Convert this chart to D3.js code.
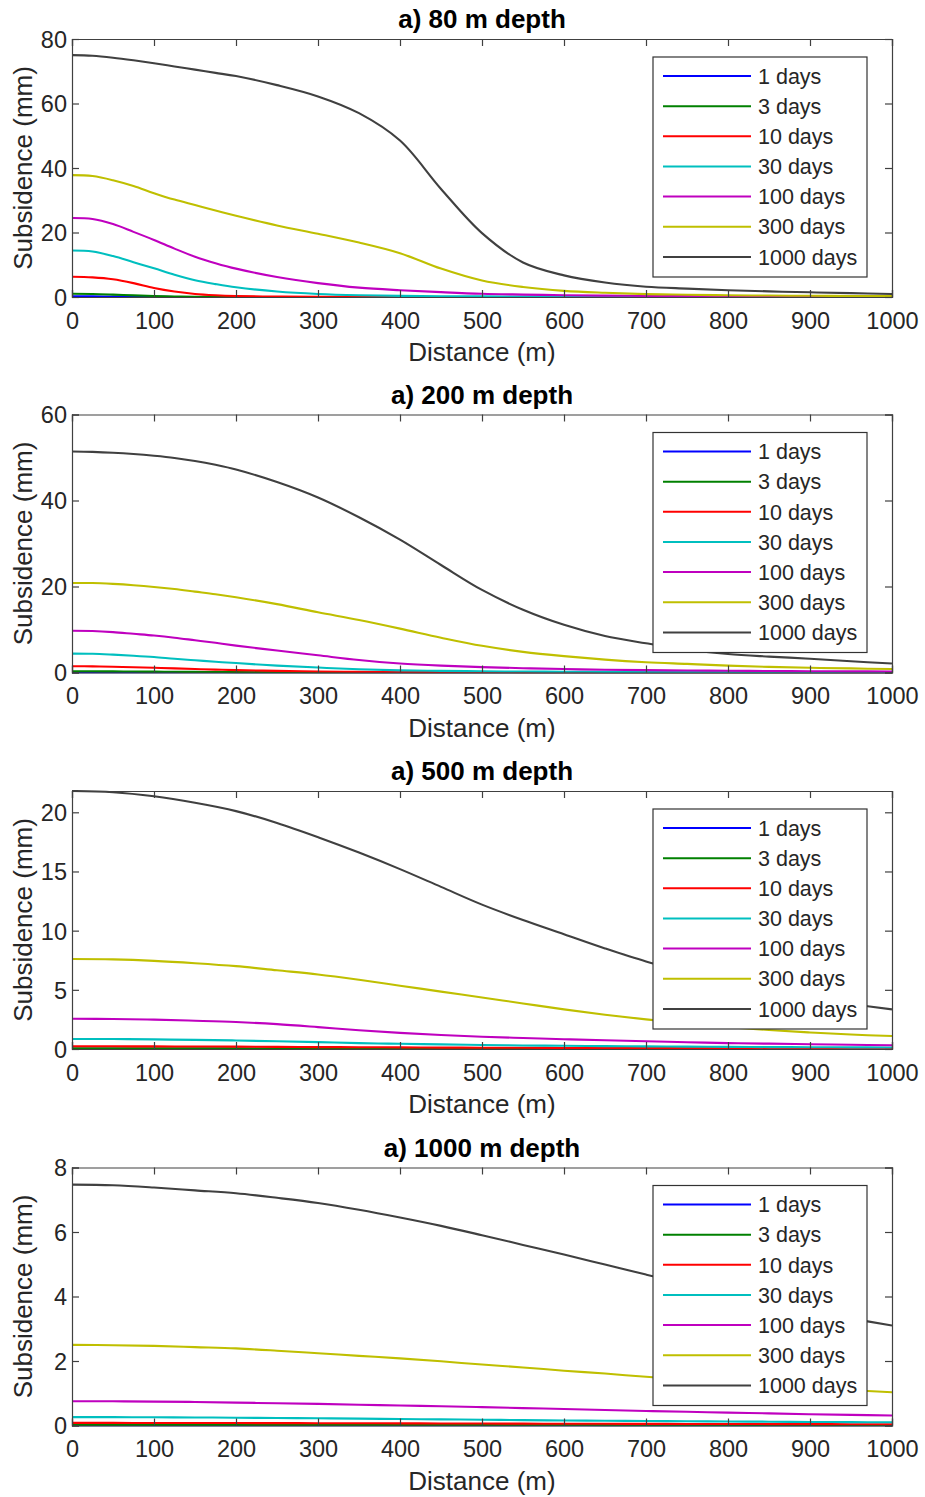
<!DOCTYPE html>
<html><head><meta charset="utf-8">
<script src="https://cdn.jsdelivr.net/npm/d3@7"></script>
<style>body{margin:0;background:#fff}svg{display:block}text{font-family:"Liberation Sans",Arial,sans-serif;fill:#262626}</style>
</head><body><div id="chart"></div>
<script>
// ---------- data ----------
const seriesNames = ["1 days","3 days","10 days","30 days","100 days","300 days","1000 days"];
const seriesColors = ["#0000ff","#008000","#ff0000","#00bfbf","#bf00bf","#bfbf00","#404040"];
const xTicks = [0,100,200,300,400,500,600,700,800,900,1000];

const distA = [0,25,50,75,100,125,150,175,200,250,300,350,400,450,500,550,600,650,700,750,800,850,900,950,1000];
const distB = [0,50,100,150,200,250,300,350,400,450,500,550,600,650,700,750,800,850,900,950,1000];

// Panel 1: 80 m depth (distA)
const p1Title = "a) 80 m depth";
const p1YTicks = [0,20,40,60,80];
const p1YMax = 80;
const p1_1d    = [0.2,0.19,0.13,0.08,0.04,0.02,0.01,0.005,0,0,0,0,0,0,0,0,0,0,0,0,0,0,0,0,0];
const p1_3d    = [1.0,0.95,0.75,0.5,0.3,0.17,0.09,0.05,0.03,0.01,0,0,0,0,0,0,0,0,0,0,0,0,0,0,0];
const p1_10d   = [6.3,6.1,5.5,4.3,2.8,1.7,0.95,0.55,0.32,0.12,0.06,0.03,0.02,0.02,0.01,0.01,0.01,0.01,0.01,0,0,0,0,0,0];
const p1_30d   = [14.4,14.1,12.7,10.8,8.9,6.9,5.2,4.0,3.0,1.7,0.95,0.55,0.35,0.25,0.18,0.14,0.11,0.09,0.08,0.07,0.06,0.06,0.05,0.05,0.05];
const p1_100d  = [24.5,24.2,22.6,20.2,17.7,15.0,12.5,10.5,8.8,6.2,4.3,2.9,2.1,1.5,1.0,0.75,0.55,0.42,0.33,0.27,0.22,0.18,0.15,0.13,0.11];
const p1_300d  = [37.8,37.5,36.2,34.4,32.2,30.2,28.5,26.8,25.2,22.2,19.6,16.9,13.6,8.8,5.1,3.1,1.9,1.3,0.9,0.7,0.55,0.45,0.38,0.32,0.28];
const p1_1000d = [75,74.8,74.2,73.4,72.5,71.5,70.5,69.5,68.5,65.7,62.2,57,48.5,33.5,19.8,10.7,6.7,4.5,3.2,2.6,2.1,1.75,1.45,1.2,0.95];

// Panel 2: 200 m depth (distA)
const p2Title = "a) 200 m depth";
const p2YTicks = [0,20,40,60];
const p2YMax = 60;
const p2_1d    = [0.03,0.03,0.03,0.02,0.02,0.02,0.01,0.01,0.01,0.01,0,0,0,0,0,0,0,0,0,0,0,0,0,0,0];
const p2_3d    = [0.28,0.28,0.26,0.23,0.2,0.17,0.14,0.11,0.09,0.06,0.04,0.03,0.02,0.02,0.01,0.01,0.01,0.01,0.01,0.01,0.01,0.01,0.01,0.01,0.01];
const p2_10d   = [1.45,1.43,1.35,1.22,1.1,0.95,0.8,0.67,0.55,0.37,0.24,0.15,0.1,0.07,0.05,0.04,0.03,0.03,0.03,0.02,0.02,0.02,0.02,0.02,0.02];
const p2_30d   = [4.4,4.35,4.15,3.9,3.6,3.2,2.85,2.5,2.2,1.6,1.15,0.75,0.5,0.37,0.28,0.22,0.18,0.15,0.13,0.11,0.1,0.09,0.08,0.07,0.06];
const p2_100d  = [9.7,9.65,9.4,9.0,8.6,8.1,7.5,6.9,6.25,5.1,4.0,2.9,2.1,1.6,1.25,1.0,0.8,0.65,0.55,0.47,0.4,0.35,0.3,0.27,0.24];
const p2_300d  = [20.8,20.8,20.6,20.3,19.9,19.4,18.8,18.2,17.5,15.9,14.0,12.2,10.2,8.1,6.2,4.8,3.8,3.0,2.4,2.0,1.6,1.3,1.1,0.95,0.8];
const p2_1000d = [51.4,51.3,51.1,50.8,50.4,49.9,49.2,48.3,47.2,44.3,40.7,36.1,30.9,25.0,19.2,14.6,11.1,8.5,6.8,5.3,4.3,3.7,3.2,2.6,2.1];

// Panel 3: 500 m depth (distB)
const p3Title = "a) 500 m depth";
const p3YTicks = [0,5,10,15,20];
const p3YMax = 21.8;
const p3_1d    = [0.01,0.01,0.01,0.01,0.01,0.01,0.01,0.01,0.01,0.01,0.01,0.01,0.01,0.01,0.01,0.01,0.01,0.01,0.01,0.01,0.01];
const p3_3d    = [0.06,0.06,0.06,0.055,0.05,0.047,0.044,0.04,0.037,0.034,0.031,0.028,0.026,0.024,0.022,0.021,0.02,0.019,0.018,0.017,0.016];
const p3_10d   = [0.23,0.23,0.22,0.21,0.2,0.18,0.16,0.15,0.14,0.12,0.11,0.1,0.09,0.08,0.075,0.07,0.065,0.06,0.055,0.052,0.05];
const p3_30d   = [0.85,0.84,0.81,0.77,0.72,0.65,0.58,0.5,0.44,0.39,0.34,0.3,0.27,0.24,0.22,0.2,0.18,0.16,0.15,0.14,0.13];
const p3_100d  = [2.55,2.54,2.48,2.39,2.28,2.1,1.85,1.58,1.36,1.18,1.04,0.93,0.83,0.74,0.65,0.57,0.5,0.45,0.4,0.36,0.32];
const p3_300d  = [7.6,7.57,7.45,7.25,7.0,6.65,6.3,5.85,5.35,4.85,4.35,3.85,3.35,2.9,2.5,2.15,1.85,1.6,1.4,1.22,1.1];
const p3_1000d = [21.8,21.7,21.35,20.8,20.1,19.1,17.9,16.6,15.2,13.7,12.2,10.9,9.7,8.5,7.4,6.5,5.6,4.9,4.3,3.8,3.35];

// Panel 4: 1000 m depth (distB)
const p4Title = "a) 1000 m depth";
const p4YTicks = [0,2,4,6,8];
const p4YMax = 8;
const p4_1d    = [0.004,0.004,0.004,0.004,0.004,0.004,0.004,0.004,0.004,0.004,0.004,0.004,0.004,0.004,0.004,0.004,0.004,0.004,0.004,0.004,0.004];
const p4_3d    = [0.02,0.02,0.02,0.02,0.02,0.019,0.018,0.017,0.016,0.015,0.015,0.014,0.014,0.013,0.013,0.012,0.012,0.011,0.011,0.01,0.01];
const p4_10d   = [0.08,0.08,0.079,0.078,0.076,0.074,0.072,0.069,0.066,0.063,0.06,0.057,0.054,0.052,0.05,0.048,0.046,0.044,0.042,0.041,0.04];
const p4_30d   = [0.26,0.26,0.255,0.25,0.24,0.232,0.225,0.212,0.2,0.19,0.18,0.167,0.155,0.147,0.14,0.132,0.125,0.118,0.11,0.105,0.1];
const p4_100d  = [0.75,0.75,0.74,0.73,0.71,0.69,0.67,0.645,0.62,0.595,0.57,0.54,0.51,0.48,0.45,0.425,0.4,0.375,0.35,0.33,0.31];
const p4_300d  = [2.5,2.49,2.47,2.43,2.39,2.32,2.24,2.16,2.08,1.99,1.89,1.8,1.7,1.61,1.51,1.42,1.34,1.26,1.18,1.1,1.03];
const p4_1000d = [7.47,7.45,7.38,7.29,7.2,7.06,6.9,6.69,6.45,6.19,5.9,5.6,5.3,4.99,4.68,4.38,4.1,3.82,3.55,3.32,3.1];

const panels = [
  {title:p1Title, yTicks:p1YTicks, yMax:p1YMax, dist:distA, series:[p1_1d,p1_3d,p1_10d,p1_30d,p1_100d,p1_300d,p1_1000d]},
  {title:p2Title, yTicks:p2YTicks, yMax:p2YMax, dist:distA, series:[p2_1d,p2_3d,p2_10d,p2_30d,p2_100d,p2_300d,p2_1000d]},
  {title:p3Title, yTicks:p3YTicks, yMax:p3YMax, dist:distB, series:[p3_1d,p3_3d,p3_10d,p3_30d,p3_100d,p3_300d,p3_1000d]},
  {title:p4Title, yTicks:p4YTicks, yMax:p4YMax, dist:distB, series:[p4_1d,p4_3d,p4_10d,p4_30d,p4_100d,p4_300d,p4_1000d]}
];

// ---------- layout ----------
const W = 925, H = 1497;
const left = 72, right = 892, plotH = 258;
const tops = [39, 414.5, 791, 1167.5];
const axisColor = "#404040";
const tickLen = 7;

const svg = d3.select("#chart").append("svg").attr("width", W).attr("height", H);

const x = d3.scaleLinear().domain([0,1000]).range([left, right]);

panels.forEach((p, pi) => {
  const top = tops[pi], bottom = top + plotH;
  const y = d3.scaleLinear().domain([0, p.yMax]).range([bottom, top]);
  const g = svg.append("g");

  const clipId = "clip" + pi;
  svg.append("clipPath").attr("id", clipId).append("rect")
    .attr("x", left).attr("y", top - 1).attr("width", right - left).attr("height", plotH + 2);

  // lines
  const line = d3.line().x((d,i) => x(p.dist[i])).y(d => y(d)).curve(d3.curveCatmullRom.alpha(0.5));
  const lg = g.append("g").attr("clip-path", `url(#${clipId})`);
  p.series.forEach((s, si) => {
    lg.append("path").attr("d", line(s)).attr("fill","none")
      .attr("stroke", seriesColors[si]).attr("stroke-width", 2.1);
  });

  // axes (bottom, left, top, right) with inward ticks
  const xAxisB = d3.axisBottom(x).tickValues(xTicks).tickSize(-tickLen).tickPadding(15).tickFormat(d3.format("d"));
  const xAxisT = d3.axisTop(x).tickValues(xTicks).tickSize(-tickLen).tickFormat("");
  const yAxisL = d3.axisLeft(y).tickValues(p.yTicks).tickSize(-tickLen).tickPadding(5).tickFormat(d3.format("d"));
  const yAxisR = d3.axisRight(y).tickValues(p.yTicks).tickSize(-tickLen).tickFormat("");

  const axB = g.append("g").attr("transform", `translate(0,${bottom})`).call(xAxisB);
  const axT = g.append("g").attr("transform", `translate(0,${top})`).call(xAxisT);
  const axL = g.append("g").attr("transform", `translate(${left},0)`).call(yAxisL);
  const axR = g.append("g").attr("transform", `translate(${right},0)`).call(yAxisR);
  [axB, axT, axL, axR].forEach(a => {
    a.select(".domain").attr("stroke", axisColor).attr("stroke-width", 1.2);
    a.selectAll(".tick line").attr("stroke", axisColor).attr("stroke-width", 1.2);
    a.selectAll(".tick text").attr("font-size", 23.5).attr("fill", "#262626")
      .attr("font-family", '"Liberation Sans", Arial, sans-serif');
  });
  axB.selectAll(".tick text").attr("dy", "0.71em");
  axL.selectAll(".tick text").attr("dy", "0.36em");

  // title
  g.append("text").attr("x", (left + right)/2).attr("y", top - 11)
    .attr("text-anchor","middle").attr("font-size", 26).attr("font-weight","bold")
    .style("fill","#000").text(p.title);

  // x label
  g.append("text").attr("x", (left + right)/2).attr("y", bottom + 64)
    .attr("text-anchor","middle").attr("font-size", 26).text("Distance (m)");

  // y label
  g.append("text").attr("transform", `translate(32,${(top+bottom)/2}) rotate(-90)`)
    .attr("text-anchor","middle").attr("font-size", 26).text("Subsidence (mm)");

  // legend
  const lx = 653, ly = top + 18, lw = 214, lh = 220;
  const leg = g.append("g");
  leg.append("rect").attr("x", lx).attr("y", ly).attr("width", lw).attr("height", lh)
    .attr("fill","#fff").attr("stroke","#333").attr("stroke-width",1.2);
  seriesNames.forEach((n, i) => {
    const ry = top + 37 + i * 30.15;
    leg.append("line").attr("x1", 663).attr("x2", 751).attr("y1", ry).attr("y2", ry)
      .attr("stroke", seriesColors[i]).attr("stroke-width", 2);
    leg.append("text").attr("x", 758).attr("y", ry).attr("dy","0.36em")
      .attr("font-size", 21.5).text(n);
  });
});
</script>
</body></html>
